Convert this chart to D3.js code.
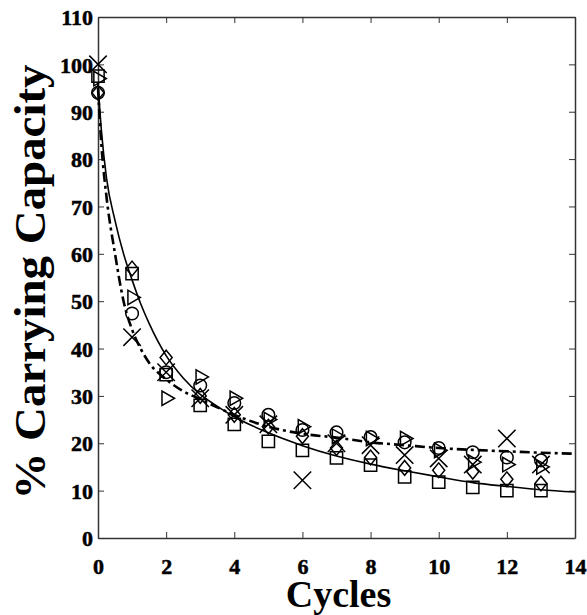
<!DOCTYPE html>
<html>
<head>
<meta charset="utf-8">
<script src="https://cdn.jsdelivr.net/npm/d3@7"></script>
<style>
  body { margin: 0; background: #fff; }
  text { font-family: "Liberation Serif", "Times New Roman", serif; font-weight: bold; fill: #000; }
</style>
</head>
<body>
<div id="chart"></div>
<script>
// cycles and measured capacity per replicate (one array per marker)
const cycles = [0, 1, 2, 3, 4, 5, 6, 7, 8, 9, 10, 11, 12, 13];
const squares   = [97.5, 55.8, 34.5, 28, 24, 20.4, 18.5, 16.9, 15.4, 12.9, 11.8, 10.7, 10, 10];
const diamonds  = [94, 56.9, 38.1, 30, 26, 23.5, 21.5, 19, 17, 14.8, 14.3, 14, 12.4, 11.5];
const circles   = [94, 47.4, 35, 32.2, 28.5, 26, 22.8, 22.3, 21.3, 20.2, 19, 18.1, 17, 16.4];
const triangles = [97, 50.8, 29.5, 34, 29.5, 25, 23.5, 21.5, 21, 21, 18.5, 16, 15.5, 15];
const crosses   = [100, 42.4, 35, 29.5, 26, 24, 12.2, 20, 19.6, 17.5, 16.8, 15.5, 21, 15.5];

// fitted curves
const fitX      = [0, 0.1, 0.25, 0.5, 0.75, 1, 1.25, 1.5, 2, 2.5, 3, 3.5, 4, 5, 6, 7, 8, 9, 10, 11, 12, 13, 14];
const fitSolid  = [96, 86, 76, 67, 60, 54.5, 49.5, 45.3, 38.5, 33.8, 30.3, 27.8, 25.6, 22.2, 19.5, 17.3, 15.6, 14.2, 12.9, 11.7, 10.9, 10.2, 9.7];
const fitDash   = [95, 83, 72, 60, 50, 44, 40, 37, 33.5, 31, 29.3, 27.6, 26, 23.5, 22, 21.2, 20.2, 19.6, 19.0, 18.6, 18.3, 18.0, 17.8];

const xTicks = [0, 2, 4, 6, 8, 10, 12, 14];
const yTicks = [0, 10, 20, 30, 40, 50, 60, 70, 80, 90, 100, 110];

var width = 587, height = 615;
var margin = { top: 17, right: 12, bottom: 77, left: 98 };

var svg = d3.select("#chart")
    .append("svg")
    .attr("width", width)
    .attr("height", height);

var x = d3.scaleLinear().domain([0, 14]).range([margin.left, width - margin.right]);
var y = d3.scaleLinear().domain([0, 110]).range([height - margin.bottom, margin.top]);

// box with inward ticks on every side
var tick = 6;
svg.append("g")
    .attr("transform", "translate(0," + y(0) + ")")
    .call(d3.axisBottom(x).tickValues(xTicks).tickSizeInner(-tick).tickSizeOuter(0))
    .call(g => g.selectAll("text").attr("font-size", 22).attr("y", 36).attr("dy", 0));
svg.append("g")
    .attr("transform", "translate(0," + y(110) + ")")
    .call(d3.axisTop(x).tickValues(xTicks).tickSizeInner(-tick).tickSizeOuter(0))
    .call(g => g.selectAll("text").remove());
svg.append("g")
    .attr("transform", "translate(" + x(0) + ",0)")
    .call(d3.axisLeft(y).tickValues(yTicks).tickSizeInner(-tick).tickSizeOuter(0).tickPadding(5))
    .call(g => g.selectAll("text").attr("font-size", 22).attr("dy", "0.35em"));
svg.append("g")
    .attr("transform", "translate(" + x(14) + ",0)")
    .call(d3.axisRight(y).tickValues(yTicks).tickSizeInner(-tick).tickSizeOuter(0))
    .call(g => g.selectAll("text").remove());
svg.selectAll(".domain").attr("stroke", "#333").attr("stroke-width", 1.5);
svg.selectAll(".tick line").attr("stroke", "#333");
svg.selectAll(".tick text").attr("stroke", "#000").attr("stroke-width", 0.5);

// fitted curves
var line = d3.line().curve(d3.curveMonotoneX);
svg.append("path")
    .attr("d", line(fitX.map((d, i) => [x(d), y(fitSolid[i])])))
    .attr("fill", "none").attr("stroke", "#000").attr("stroke-width", 1.6);
svg.append("path")
    .attr("d", line(fitX.map((d, i) => [x(d), y(fitDash[i])])))
    .attr("fill", "none").attr("stroke", "#000").attr("stroke-width", 2.6)
    .attr("stroke-dasharray", "10,4,3,4");

// matlab style diamond (wider than d3's)
var wideDiamond = {
    draw: function (ctx, size) {
        var r = Math.sqrt(size / 2);
        ctx.moveTo(0, -r * 1.1);
        ctx.lineTo(r * 0.9, 0);
        ctx.lineTo(0, r * 1.1);
        ctx.lineTo(-r * 0.9, 0);
        ctx.closePath();
    }
};

var series = [
    { vals: squares,   type: d3.symbolSquare,   size: 150, rot: 0 },
    { vals: diamonds,  type: wideDiamond,       size: 90,  rot: 0 },
    { vals: circles,   type: d3.symbolCircle,   size: 125, rot: 0 },
    { vals: triangles, type: d3.symbolTriangle, size: 90,  rot: 90 },
    { vals: crosses,   type: d3.symbolTimes,    size: 200, rot: 0 }
];

series.forEach(function (s) {
    svg.append("g")
        .selectAll("path")
        .data(cycles)
        .enter()
        .append("path")
        .attr("d", d3.symbol().type(s.type).size(s.size))
        .attr("transform", (d, i) => "translate(" + x(d) + "," + y(s.vals[i]) + ") rotate(" + s.rot + ")")
        .attr("fill", "none")
        .attr("stroke", "#000")
        .attr("stroke-width", 1.5);
});

// axis titles
svg.append("text")
    .attr("x", (x(0) + x(14)) / 2 + 2)
    .attr("y", 607)
    .attr("text-anchor", "middle")
    .attr("font-size", 38)
    .text("Cycles");
svg.append("text")
    .attr("transform", "translate(45," + 282 + ") rotate(-90)")
    .attr("text-anchor", "middle")
    .attr("font-size", 44)
    .attr("textLength", 435)
    .attr("lengthAdjust", "spacingAndGlyphs")
    .text("% Carrying Capacity");
</script>
</body>
</html>
